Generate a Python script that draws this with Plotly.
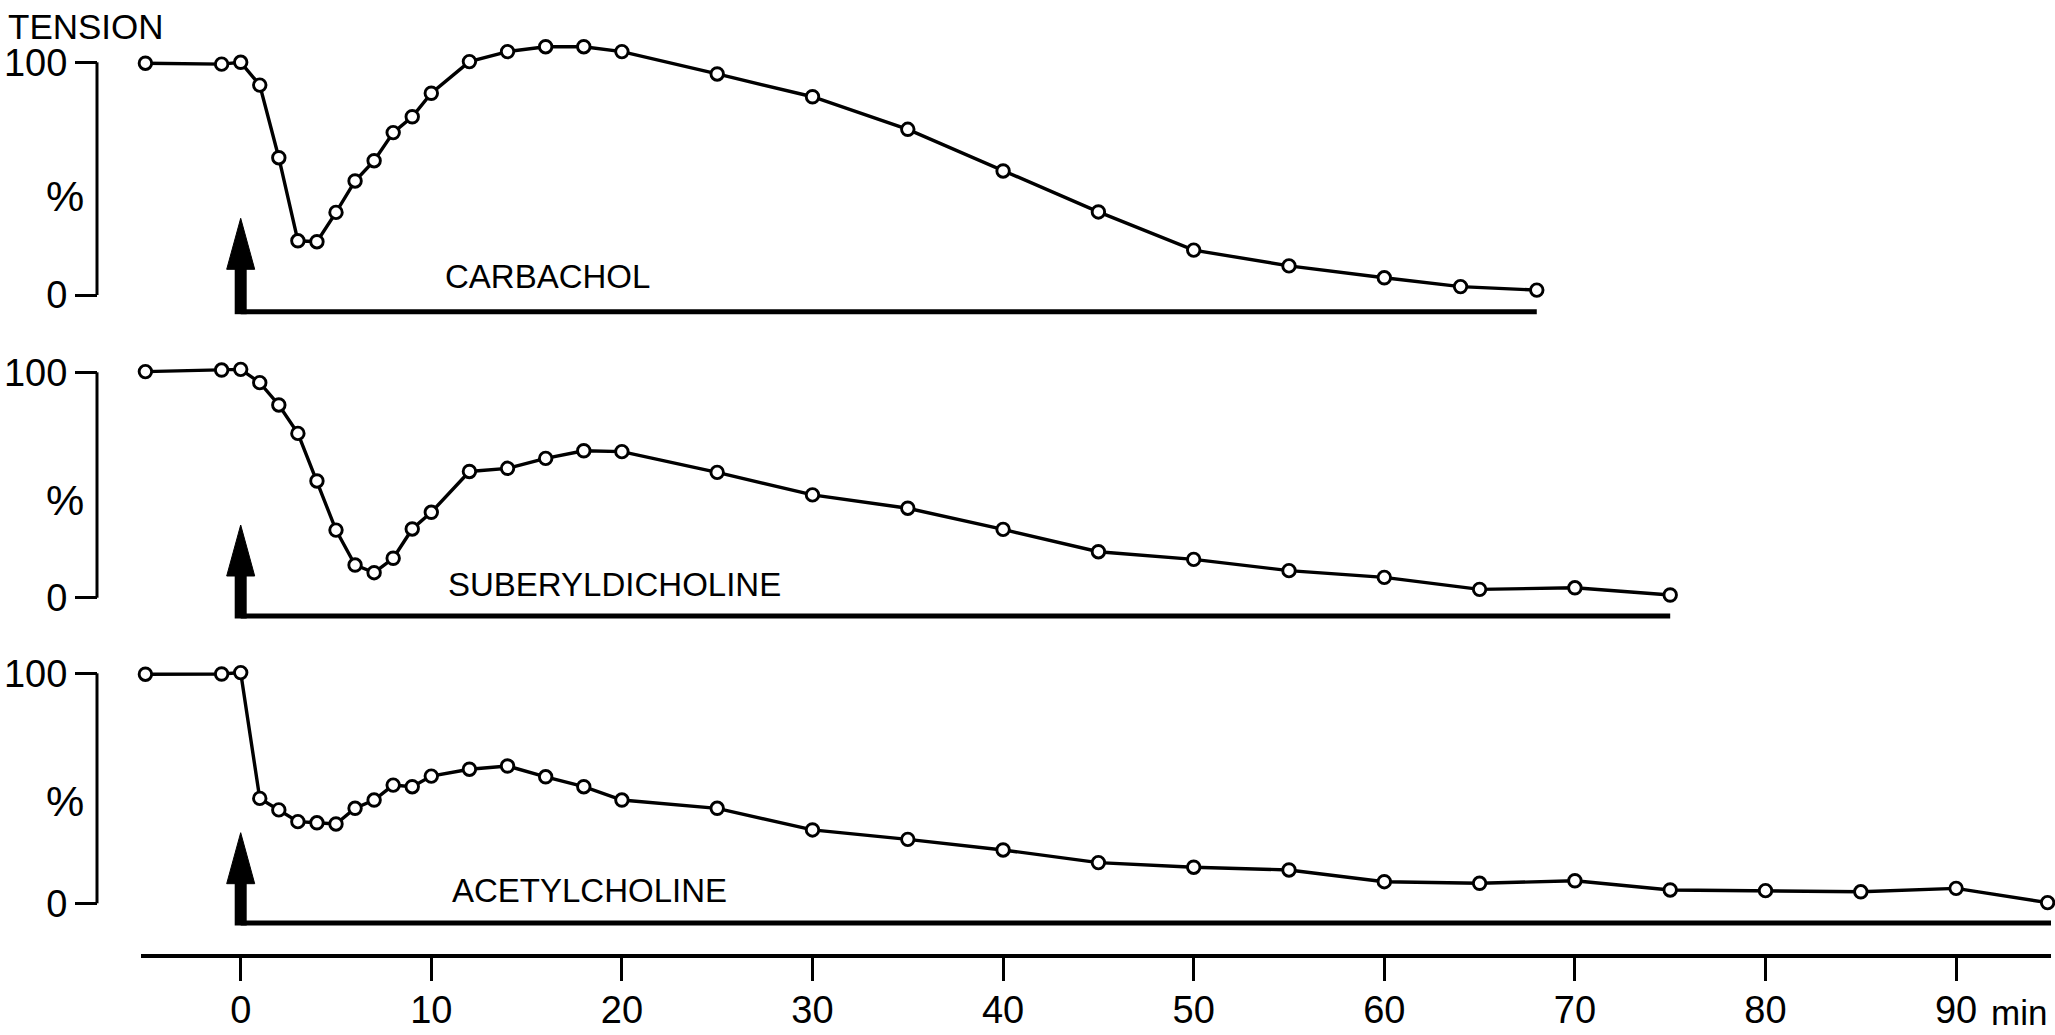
import plotly.graph_objects as go

# ---------------- data ----------------
t_carb = [-5, -1, 0, 1, 2, 3, 4, 5, 6, 7, 8, 9, 10, 12, 14, 16, 18, 20,
          25, 30, 35, 40, 45, 50, 55, 60, 64, 68]
v_carb = [99.6, 99.2, 100, 90.2, 59, 23.3, 22.9, 35.5, 49, 57.7, 69.8, 76.6, 86.7,
          100.3, 104.6, 106.7, 106.7, 104.6, 95, 85.2, 71.2, 53.3, 35.7, 19.3,
          12.5, 7.4, 3.6, 2.1]

t_sub = [-5, -1, 0, 1, 2, 3, 4, 5, 6, 7, 8, 9, 10, 12, 14, 16, 18, 20,
         25, 30, 35, 40, 45, 50, 55, 60, 65, 70, 75]
v_sub = [100.3, 101, 101.3, 95.4, 85.5, 72.9, 51.8, 30, 14.5, 11.1, 17.5, 30.5,
         37.9, 56, 57.4, 61.8, 65.2, 64.8, 55.6, 45.6, 39.7, 30.3, 20.4, 17,
         12, 9, 3.7, 4.4, 1.2]

t_ach = [-5, -1, 0, 1, 2, 3, 4, 5, 6, 7, 8, 9, 10, 12, 14, 16, 18, 20,
         25, 30, 35, 40, 45, 50, 55, 60, 65, 70, 75, 80, 85, 90, 94.8]
v_ach = [99.6, 99.7, 100.3, 45.6, 40.6, 35.5, 35, 34.5, 41.3, 44.9, 51.4, 50.7,
         55.3, 58.3, 59.7, 55, 50.7, 44.9, 41.3, 31.9, 27.8, 23.2, 17.7, 15.7,
         14.5, 9.4, 8.7, 9.8, 5.8, 5.5, 5.0, 6.5, 0.3]

drug_names = ["CARBACHOL", "SUBERYLDICHOLINE", "ACETYLCHOLINE"]
drug_start = 0
drug_end = [68, 75, 95]

x_tickvals = [0, 10, 20, 30, 40, 50, 60, 70, 80, 90]
x_ticktext = ["0", "10", "20", "30", "40", "50", "60", "70", "80", "90"]
y_tickvals = [0, 100]
y_ticktext = ["0", "100"]

series_t = [t_carb, t_sub, t_ach]
series_v = [v_carb, v_sub, v_ach]

# ---------------- layout geometry (pixels) ----------------
W, H = 2055, 1035
ML, MR, MT, MB = 97, 4, 36, 79
PW = W - ML - MR
PH = H - MT - MB
BOTTOM_PX = H - MB

X0_PX = 240.7          # pixel of t = 0
PX_PER_MIN = 19.06
x_left_px, x_right_px = 141, 2051
x_range = [(x_left_px - X0_PX) / PX_PER_MIN, (x_right_px - X0_PX) / PX_PER_MIN]
x_domain = [(x_left_px - ML) / PW, (x_right_px - ML) / PW]

# per panel: pixel of 0 %, pixel of 100 %, domain top/bottom, baseline, arrow tip
panel_geo = [
    dict(p0=295.0, p100=62.3, top=MT, bot=335, base=311.7, tip=218.3,
         name_x=10.6, name_y=276, pct_y=196),
    dict(p0=597.7, p100=372.3, top=345, bot=640, base=616.0, tip=525.0,
         name_x=10.75, name_y=584.3, pct_y=500),
    dict(p0=903.3, p100=673.3, top=650, bot=945, base=923.0, tip=832.7,
         name_x=11.0, name_y=890, pct_y=801),
]

FONT = "Liberation Sans, Arial, Helvetica, sans-serif"

fig = go.Figure()
shapes = []
annotations = []

layout_axes = {}
for i, g in enumerate(panel_geo):
    s = (g["p0"] - g["p100"]) / 100.0  # px per %
    rng = [(g["p0"] - g["bot"]) / s, (g["p0"] - g["top"]) / s]
    dom = [(BOTTOM_PX - g["bot"]) / PH, (BOTTOM_PX - g["top"]) / PH]
    yname = "yaxis" if i == 0 else f"yaxis{i+1}"
    yref = "y" if i == 0 else f"y{i+1}"
    layout_axes[yname] = dict(
        domain=dom, range=rng, anchor="free", position=0,
        showline=False, showgrid=False, zeroline=False,
        tickmode="array", tickvals=y_tickvals, ticktext=y_ticktext,
        ticks="outside", ticklen=22, tickwidth=3, tickcolor="black",
        tickfont=dict(family=FONT, size=38, color="black"),
        automargin=False, fixedrange=True,
    )
    # vertical bracket of the % scale
    shapes.append(dict(type="line", xref="paper", yref=yref, x0=0, x1=0,
                       y0=0, y1=100, line=dict(color="black", width=3)))

    base_v = (g["p0"] - g["base"]) / s
    tip_v = (g["p0"] - g["tip"]) / s
    head_len = 51 / s
    head_hw = 14 / PX_PER_MIN
    shaft_hw = 6 / PX_PER_MIN

    # drug application line
    fig.add_trace(go.Scatter(
        x=[drug_start, drug_end[i]], y=[base_v, base_v], mode="lines",
        line=dict(color="black", width=5), yaxis=yref, xaxis="x",
        hoverinfo="skip", cliponaxis=False))

    # arrow (shaft + head) at drug start
    shapes.append(dict(type="rect", xref="x", yref=yref,
                       x0=drug_start - shaft_hw, x1=drug_start + shaft_hw,
                       y0=base_v - 2.5 / s, y1=tip_v - head_len + 1 / s,
                       fillcolor="black", line=dict(width=0)))
    shapes.append(dict(type="path", xref="x", yref=yref,
                       path=(f"M {drug_start - head_hw},{tip_v - head_len} "
                             f"L {drug_start},{tip_v} "
                             f"L {drug_start + head_hw},{tip_v - head_len} Z"),
                       fillcolor="black", line=dict(color="black", width=1)))

    # data series
    fig.add_trace(go.Scatter(
        x=series_t[i], y=series_v[i], mode="lines+markers",
        line=dict(color="black", width=3.4),
        marker=dict(symbol="circle", size=12.5, color="white",
                    line=dict(color="black", width=2.9)),
        yaxis=yref, xaxis="x", cliponaxis=False, name=drug_names[i]))

    # drug name label
    annotations.append(dict(
        text=drug_names[i], xref="x", yref=yref, x=g["name_x"],
        y=(g["p0"] - g["name_y"]) / s, xanchor="left", yanchor="middle",
        showarrow=False, font=dict(family=FONT, size=33, color="black")))
    # % label
    annotations.append(dict(
        text="%", xref="paper", yref=yref, x=(65 - ML) / PW,
        y=(g["p0"] - g["pct_y"]) / s, xanchor="center", yanchor="middle",
        showarrow=False, font=dict(family=FONT, size=43, color="black")))

annotations.append(dict(
    text="TENSION", xref="paper", yref="paper", x=(6 - ML) / PW,
    y=(BOTTOM_PX - 27) / PH, xanchor="left", yanchor="middle",
    showarrow=False, font=dict(family=FONT, size=35, color="black")))
annotations.append(dict(
    text="min", xref="x", yref="paper", x=91.7,
    y=(BOTTOM_PX - 1012) / PH, xanchor="left", yanchor="middle",
    showarrow=False, font=dict(family=FONT, size=35, color="black")))

fig.update_layout(
    template="none",
    width=W, height=H,
    margin=dict(l=ML, r=MR, t=MT, b=MB, pad=0),
    paper_bgcolor="white", plot_bgcolor="white",
    showlegend=False,
    font=dict(family=FONT, color="black"),
    xaxis=dict(
        domain=x_domain, range=x_range, anchor="free", position=0,
        showline=True, linewidth=4, linecolor="black", mirror=False,
        showgrid=False, zeroline=False,
        tickmode="array", tickvals=x_tickvals, ticktext=x_ticktext,
        ticks="outside", ticklen=23, tickwidth=3, tickcolor="black",
        tickfont=dict(family=FONT, size=38, color="black"),
        ticklabelstandoff=-4,
        automargin=False, fixedrange=True,
    ),
    shapes=shapes,
    annotations=annotations,
    **layout_axes,
)

fig.write_html("out.html")
